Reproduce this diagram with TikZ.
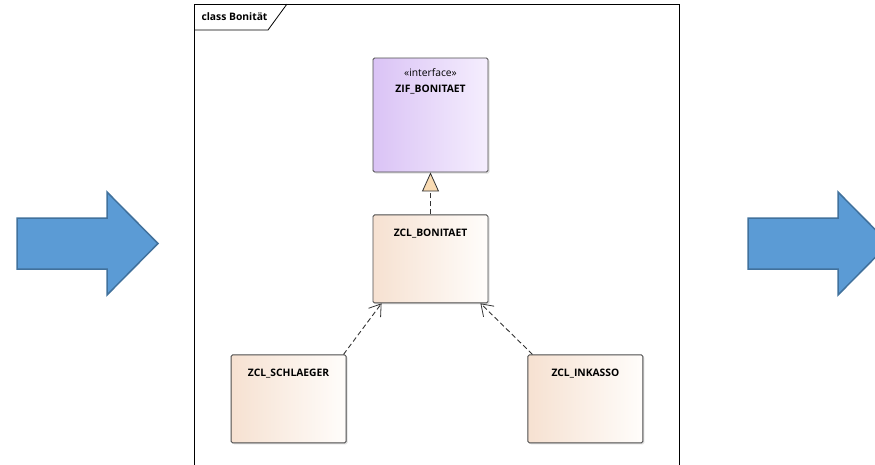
\documentclass[tikz,border=0pt]{standalone}
\usepackage{fontspec}
\setmainfont{Open Sans}
\usetikzlibrary{positioning, arrows.meta, shadows}

\definecolor{ifaceleft}{HTML}{DAC3F5}
\definecolor{ifaceright}{HTML}{F5EEFE}
\definecolor{classleft}{HTML}{F6E1D1}
\definecolor{classright}{HTML}{FFFDFB}
\definecolor{tipfill}{HTML}{F9DBB3}
\definecolor{arrowfill}{HTML}{5B9BD5}
\definecolor{arrowline}{HTML}{41719C}

\begin{document}
\begin{tikzpicture}[
        x=1pt, y=-1pt,
        >=Stealth,
        node distance=42pt and 26pt,
        every node/.style={font=\fontsize{10.3}{12}\selectfont, align=center},
        classbox/.style={draw=black!70, line width=0.9pt, rounded corners=1.5pt, minimum width=115pt, minimum height=88pt, left color=classleft, right color=classright, drop shadow={opacity=0.25, shadow xshift=1.5pt, shadow yshift=-1.5pt}},
        ifacebox/.style={classbox, minimum height=114pt, left color=ifaceleft, right color=ifaceright},
        title/.style={anchor=north, yshift=-11.5pt, font=\fontsize{10.3}{12}\selectfont\bfseries},
        realize/.style={dash pattern=on 5pt off 3pt, draw=black!80, line width=0.9pt, -{Triangle[fill=tipfill, length=19pt, width=17pt, line width=0.8pt]}},
        depend/.style={dash pattern=on 5pt off 3pt, draw=black!80, line width=0.9pt, -{Straight Barb[length=11pt, width=15pt, line width=0.8pt]}},
        bigarrow/.style={fill=arrowfill, draw=arrowline, line width=1.5pt, line join=miter}
    ]
        \useasboundingbox (0,0) rectangle (875,464);
        \clip (0,0) rectangle (875,464);

        % arrows left and right of the diagram
        \draw[bigarrow] (17,218) -- (107,218) -- (107,192) -- (158,243.5) -- (107,295) -- (107,269) -- (17,269) -- cycle;
        \draw[bigarrow] (748,218) -- (838,218) -- (838,192) -- (889,243.5) -- (838,295) -- (838,269) -- (748,269) -- cycle;

        % diagram frame
        \draw[line width=1pt] (194,4) rectangle (679,480);
        \draw[line width=0.8pt] (194,30) -- (268,30) -- (287,4);
        \node[anchor=west, font=\fontsize{10.3}{12}\selectfont\bfseries] (frametitle) at (198,17) {class Bonität};

        % classes
        \node[ifacebox, label={[title, yshift=3.5pt]north:{\mdseries«interface»}\\[4pt]ZIF\_BONITAET}] (ifc) at (430.5,115) {};
        \node[classbox, below=of ifc, label={[title]north:ZCL\_BONITAET}] (bon) {};
        \node[classbox, below left=51pt and 26pt of bon, label={[title]north:ZCL\_SCHLAEGER}] (schl) {};
        \node[classbox, below right=51pt and 39pt of bon, label={[title]north:ZCL\_INKASSO}] (inkasso) {};

        \draw[realize] (bon) -- (ifc);
        \draw[depend] ([xshift=-3pt]schl.north east) -- ([xshift=9pt]bon.south west);
        \draw[depend] ([xshift=5pt]inkasso.north west) -- ([xshift=-8pt]bon.south east);
    \end{tikzpicture}
\end{document}
